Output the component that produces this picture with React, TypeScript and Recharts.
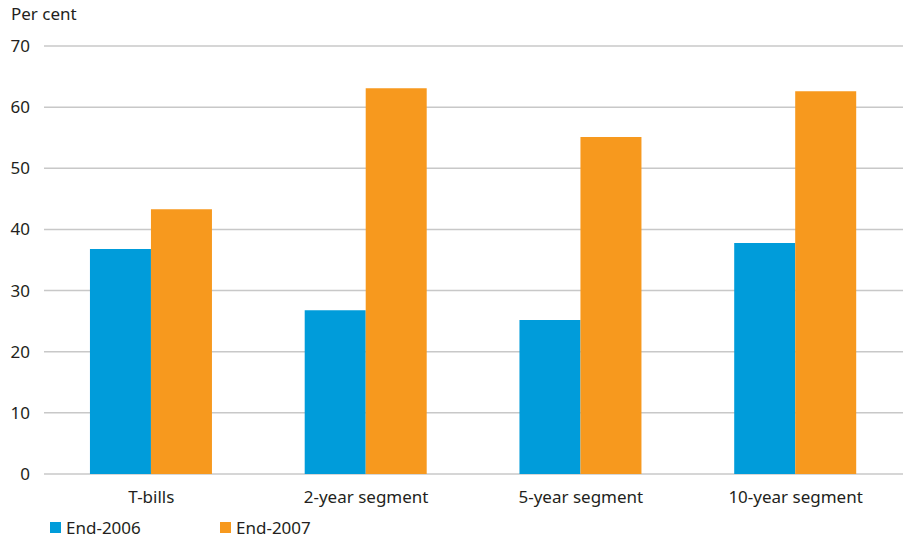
import { BarChart, Bar, XAxis, YAxis, CartesianGrid } from "recharts";

const categories = ["T-bills", "2-year segment", "5-year segment", "10-year segment"];
const end2006 = [36.8, 26.8, 25.2, 37.8];
const end2007 = [43.3, 63.1, 55.1, 62.6];
const yTicks = [0, 10, 20, 30, 40, 50, 60, 70];
const edgeTicks = [0, 1, 2, 3, 4];

const BLUE = "#009cda";
const ORANGE = "#f7991e";
const TEXT = "#231f20";
const GRID = "#c8c8c8";
const FONT = "'Noto Sans', 'Open Sans', sans-serif";

const data = categories.map((name, i) => ({
  name,
  idx: i + 0.5,
  end2006: end2006[i],
  end2007: end2007[i],
}));

export default function App() {
  return (
    <div
      style={{
        position: "absolute",
        left: 0,
        top: 0,
        width: 903,
        height: 541,
        background: "#fff",
        fontFamily: FONT,
        color: TEXT,
      }}
    >
      <div style={{ position: "absolute", left: 11, top: 2, fontSize: 17 }}>Per cent</div>
      <BarChart
        width={903}
        height={541}
        data={data}
        margin={{ top: 46, right: 0, bottom: 37, left: 0 }}
        barCategoryGap="21.4%"
        barGap={0}
      >
        <CartesianGrid horizontal vertical={false} stroke={GRID} strokeWidth={1.5} />
        <XAxis
          xAxisId="edges"
          type="number"
          dataKey="idx"
          domain={[0, 4]}
          ticks={edgeTicks}
          tick={false}
          height={0}
          tickSize={4}
          axisLine={{ stroke: GRID, strokeWidth: 1.5 }}
          tickLine={{ stroke: GRID, strokeWidth: 1.5 }}
        />
        <XAxis
          xAxisId="cat"
          dataKey="name"
          axisLine={false}
          tickLine={false}
          tickSize={0}
          tickMargin={17}
          height={30}
          tick={{ fill: TEXT, fontSize: 17, fontFamily: FONT }}
        />
        <YAxis
          domain={[0, 70]}
          ticks={yTicks}
          width={44}
          axisLine={false}
          tickLine={false}
          tickMargin={8}
          tick={{ fill: TEXT, fontSize: 17, fontFamily: FONT, textAnchor: "end" }}
        />
        <Bar xAxisId="cat" dataKey="end2006" fill={BLUE} isAnimationActive={false} />
        <Bar xAxisId="cat" dataKey="end2007" fill={ORANGE} isAnimationActive={false} />
      </BarChart>
      <div
        style={{
          position: "absolute",
          left: 50,
          top: 516,
          display: "flex",
          alignItems: "center",
          fontSize: 17,
        }}
      >
        <span style={{ width: 11, height: 11, background: BLUE, display: "inline-block" }} />
        <span style={{ marginLeft: 5, width: 154 }}>End-2006</span>
        <span style={{ width: 11, height: 11, background: ORANGE, display: "inline-block" }} />
        <span style={{ marginLeft: 5 }}>End-2007</span>
      </div>
    </div>
  );
}
